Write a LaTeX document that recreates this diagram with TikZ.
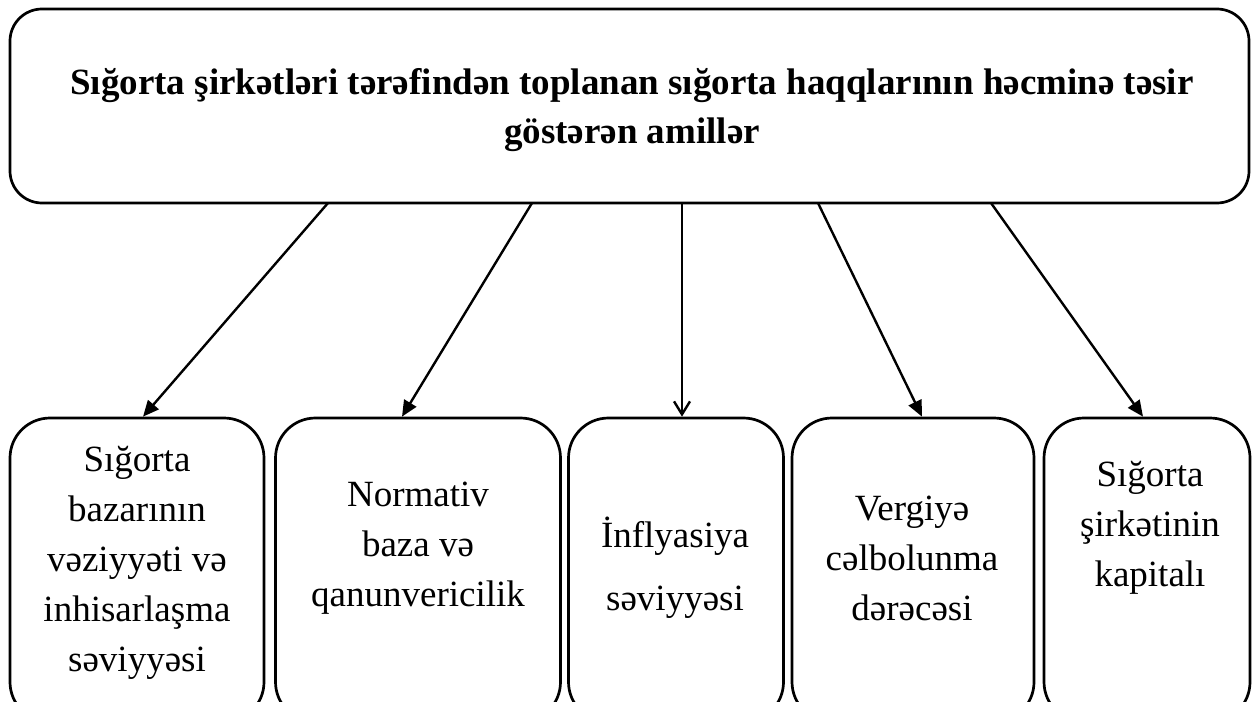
\documentclass[tikz,border=0pt]{standalone}
\usepackage{fontspec}
\setmainfont{Liberation Serif}
\usetikzlibrary{arrows.meta,calc}

\tikzset{
  x=1pt, y=-1pt,
  framebox/.style={draw=black, line width=2.7pt, rounded corners=32pt, inner sep=0pt},
  factorbox/.style={draw=black, line width=2.7pt, rounded corners=40pt, inner sep=0pt,
                    minimum height=304pt},
  titletext/.style={align=center, inner sep=0pt,
                    font=\fontsize{37}{49}\selectfont\bfseries},
  factortext/.style={align=center, inner sep=0pt,
                     font=\fontsize{37}{50}\selectfont},
  solidarrow/.style={draw=black, line width=2.4pt,
                     -{Triangle[length=16pt,width=14pt]}},
  openarrow/.style={draw=black, line width=2.4pt,
                    -{Straight Barb[length=13pt,width=16pt,line width=2.4pt]}},
}

\begin{document}
\begin{tikzpicture}
\useasboundingbox (0,0) rectangle (1252,701);
\clip (0,0) rectangle (1252,701);

% headline box
\node[framebox, minimum width=1239pt, minimum height=194pt] (top) at (629.5,106) {};
\node[titletext] (title) at (632,108.7)
  {\strut Sığorta şirkətləri tərəfindən toplanan sığorta haqqlarının həcminə təsir\\
   göstərən amillər\strut};

% factor boxes
\node[factorbox, minimum width=254pt] (b1) at (137,570) {};
\node[factorbox, minimum width=285pt] (b2) at (418,570) {};
\node[factorbox, minimum width=215pt] (b3) at (676,570) {};
\node[factorbox, minimum width=242pt] (b4) at (913,570) {};
\node[factorbox, minimum width=206pt] (b5) at (1147,570) {};

\node[factortext] (t1) at (137,561.5)
  {\strut Sığorta\\bazarının\\vəziyyəti və\\inhisarlaşma\\səviyyəsi\strut};
\node[factortext] (t2) at (418,546)
  {\strut Normativ\\baza və\\qanunvericilik\strut};
\node[factortext] (t3) at (675,568.5)
  {\strut İnflyasiya\\[13pt]səviyyəsi\strut};
\node[factortext] (t4) at (912,560)
  {\strut Vergiyə\\cəlbolunma\\dərəcəsi\strut};
\node[factortext] (t5) at (1150,526)
  {\strut Sığorta\\şirkətinin\\kapitalı\strut};

% connector start points on the headline box
\coordinate (s1) at (328,203);
\coordinate (s2) at (532,203);
\coordinate (s3) at (682,203);
\coordinate (s4) at (818,203);
\coordinate (s5) at (991,203);

\draw[solidarrow] (s1) -- ([xshift=6pt]b1.north);
\draw[solidarrow] (s2) -- ([xshift=-16pt]b2.north);
\draw[openarrow]  (s3) -- ([xshift=6pt]b3.north);
\draw[solidarrow] (s4) -- ([xshift=9pt]b4.north);
\draw[solidarrow] (s5) -- ([xshift=-4pt]b5.north);
\end{tikzpicture}
\end{document}
